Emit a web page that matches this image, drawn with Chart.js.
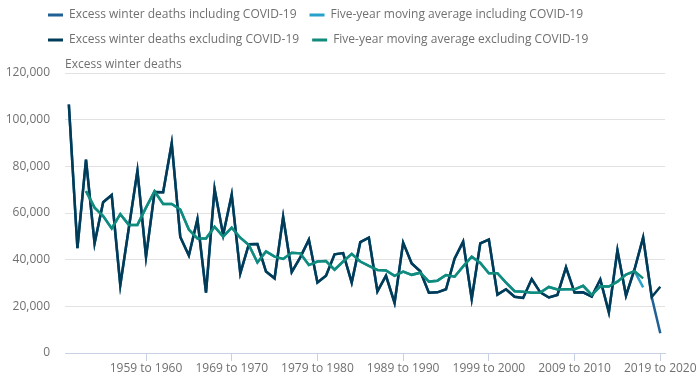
<!DOCTYPE html>
<html>
<head>
<meta charset="utf-8">
<script src="https://cdn.jsdelivr.net/npm/chart.js@4.4.1/dist/chart.umd.min.js"></script>
<style>
html,body{margin:0;padding:0;background:#ffffff;}
#wrap{position:relative;width:700px;height:392px;}
</style>
</head>
<body>
<div id="wrap"><canvas id="chart"></canvas></div>
<script>
const categories = [
  "1950 to 1951","1951 to 1952","1952 to 1953","1953 to 1954","1954 to 1955",
  "1955 to 1956","1956 to 1957","1957 to 1958","1958 to 1959","1959 to 1960",
  "1960 to 1961","1961 to 1962","1962 to 1963","1963 to 1964","1964 to 1965",
  "1965 to 1966","1966 to 1967","1967 to 1968","1968 to 1969","1969 to 1970",
  "1970 to 1971","1971 to 1972","1972 to 1973","1973 to 1974","1974 to 1975",
  "1975 to 1976","1976 to 1977","1977 to 1978","1978 to 1979","1979 to 1980",
  "1980 to 1981","1981 to 1982","1982 to 1983","1983 to 1984","1984 to 1985",
  "1985 to 1986","1986 to 1987","1987 to 1988","1988 to 1989","1989 to 1990",
  "1990 to 1991","1991 to 1992","1992 to 1993","1993 to 1994","1994 to 1995",
  "1995 to 1996","1996 to 1997","1997 to 1998","1998 to 1999","1999 to 2000",
  "2000 to 2001","2001 to 2002","2002 to 2003","2003 to 2004","2004 to 2005",
  "2005 to 2006","2006 to 2007","2007 to 2008","2008 to 2009","2009 to 2010",
  "2010 to 2011","2011 to 2012","2012 to 2013","2013 to 2014","2014 to 2015",
  "2015 to 2016","2016 to 2017","2017 to 2018","2018 to 2019","2019 to 2020"
];

const tickLabels = ["1959 to 1960","1969 to 1970","1979 to 1980","1989 to 1990","1999 to 2000","2009 to 2010","2019 to 2020"];

const deathsIncludingCovid = [
  106500, 44900, 82900, 47000, 64600, 67700, 29100, 53700, 78100, 41200,
  69000, 68900, 89900, 49700, 41800, 57300, 25900, 70300, 50600, 67900,
  34100, 46600, 46700, 34900, 32000, 58400, 34700, 41000, 48600, 30200,
  33100, 42300, 42800, 30200, 47500, 49400, 26400, 33100, 21500, 47300,
  38400, 35000, 25800, 26000, 27300, 40400, 47700, 23200, 47000, 48600,
  25000, 27300, 24100, 23600, 31700, 26000, 23800, 24900, 36700, 25900,
  26000, 24200, 31500, 17400, 44000, 24600, 35900, 49500, 24000, 8500
];

const deathsExcludingCovid = [
  106500, 44900, 82900, 47000, 64600, 67700, 29100, 53700, 78100, 41200,
  69000, 68900, 89900, 49700, 41800, 57300, 25900, 70300, 50600, 67900,
  34100, 46600, 46700, 34900, 32000, 58400, 34700, 41000, 48600, 30200,
  33100, 42300, 42800, 30200, 47500, 49400, 26400, 33100, 21500, 47300,
  38400, 35000, 25800, 26000, 27300, 40400, 47700, 23200, 47000, 48600,
  25000, 27300, 24100, 23600, 31700, 26000, 23800, 24900, 36700, 25900,
  26000, 24200, 31500, 17400, 44000, 24600, 35900, 49500, 24000, 28400
];

const averageIncludingCovid = [
  null, null, 69400, 62300, 58700, 53400, 59500, 54900, 54900, 62300,
  69300, 63900, 63900, 61500, 52900, 49100, 49100, 54100, 49900, 53700,
  49400, 46300, 38800, 43500, 41300, 40300, 43000, 42700, 37700, 39200,
  39400, 35700, 39200, 42500, 39200, 37300, 35600, 35400, 33100, 34900,
  33500, 34400, 30600, 31000, 33400, 32700, 37100, 41300, 38600, 34200,
  34200, 30200, 26500, 26300, 25800, 25900, 28300, 27200, 27300, 27300,
  28800, 24900, 28600, 28500, 30600, 33600, 35100, 28100, null, null
];

const averageExcludingCovid = [
  null, null, 69400, 62300, 58700, 53400, 59500, 54900, 54900, 62300,
  69300, 63900, 63900, 61500, 52900, 49100, 49100, 54100, 49900, 53700,
  49400, 46300, 38800, 43500, 41300, 40300, 43000, 42700, 37700, 39200,
  39400, 35700, 39200, 42500, 39200, 37300, 35600, 35400, 33100, 34900,
  33500, 34400, 30600, 31000, 33400, 32700, 37100, 41300, 38600, 34200,
  34200, 30200, 26500, 26300, 25800, 25900, 28300, 27200, 27300, 27300,
  28800, 24900, 28600, 28500, 30600, 33600, 35100, 32000, null, null
];

const toPoints = arr => arr.map((v, i) => ({ x: i, y: v }));
const tickPositions = tickLabels.map(l => categories.indexOf(l));

Chart.defaults.font.family = "'Open Sans', 'Noto Sans', sans-serif";
Chart.defaults.font.size = 12;
Chart.defaults.color = '#707070';

const LEGEND_PAD = 13;

const legendTweak = {
  id: 'legendTweak',
  beforeInit(chart) {
    const lg = chart.legend;
    if (lg) {
      const fit = lg.fit;
      lg.fit = function () { fit.call(this); this.height = 50; };
    }
  },
  afterLayout(chart) {
    if (chart.legend) {
      chart.legend.left = 48 - LEGEND_PAD;
      chart.legend.top = 9 - LEGEND_PAD;
    }
  }
};

const lineStyle = { tension: 0, pointRadius: 0, pointHoverRadius: 0, borderWidth: 2.5, fill: false, spanGaps: false };

new Chart(document.getElementById('chart'), {
  type: 'line',
  data: {
    datasets: [
      Object.assign({ label: 'Excess winter deaths including COVID-19', data: toPoints(deathsIncludingCovid),
        borderColor: '#206095', backgroundColor: '#206095', order: 3 }, lineStyle),
      Object.assign({ label: 'Five-year moving average including COVID-19', data: toPoints(averageIncludingCovid),
        borderColor: '#27a0cc', backgroundColor: '#27a0cc', order: 2 }, lineStyle),
      Object.assign({ label: 'Excess winter deaths excluding COVID-19', data: toPoints(deathsExcludingCovid),
        borderColor: '#003c57', backgroundColor: '#003c57', order: 1 }, lineStyle),
      Object.assign({ label: 'Five-year moving average excluding COVID-19', data: toPoints(averageExcludingCovid),
        borderColor: '#118c7b', backgroundColor: '#118c7b', order: 0 }, lineStyle)
    ]
  },
  options: {
    responsive: true,
    maintainAspectRatio: false,
    animation: false,
    devicePixelRatio: 1,
    locale: 'en-GB',
    layout: { padding: { top: 0, right: 35, bottom: 0, left: 0 } },
    plugins: {
      tooltip: { enabled: false },
      legend: {
        display: true,
        position: 'top',
        align: 'start',
        labels: {
          boxWidth: 15,
          boxHeight: 3,
          padding: LEGEND_PAD,
          color: '#707070',
          font: { size: 12 },
          sort: (a, b) => a.datasetIndex - b.datasetIndex,
          generateLabels(chart) {
            const items = Chart.defaults.plugins.legend.labels.generateLabels(chart);
            return items.map(it => Object.assign(it, { lineWidth: 0, fillStyle: it.strokeStyle }));
          }
        }
      },
      title: {
        display: true,
        text: 'Excess winter deaths',
        position: 'top',
        align: 'start',
        fullSize: false,
        weight: 500,
        color: '#707070',
        font: { size: 12, weight: 'normal' },
        padding: { top: 7.8, bottom: 0.8 }
      }
    },
    scales: {
      x: {
        type: 'linear',
        min: -0.45,
        max: 69.55,
        afterBuildTicks(scale) { scale.ticks = tickPositions.map(v => ({ value: v })); },
        afterFit(scale) { scale.height = 39; },
        grid: { drawOnChartArea: false, drawTicks: true, tickLength: 8, color: '#c8d1e3' },
        border: { display: true, color: '#c8d1e3', width: 1 },
        ticks: {
          autoSkip: false,
          maxRotation: 0,
          padding: 0,
          color: '#707070',
          font: { size: 12 },
          callback: (v) => categories[Math.round(v)]
        }
      },
      y: {
        min: 0,
        max: 120000,
        afterFit(scale) { scale.width = 65; },
        grid: { color: '#e2e2e2', drawTicks: false },
        border: { display: false },
        ticks: { stepSize: 20000, padding: 15, color: '#707070', font: { size: 12 } }
      }
    }
  },
  plugins: [legendTweak]
});
</script>
</body>
</html>
